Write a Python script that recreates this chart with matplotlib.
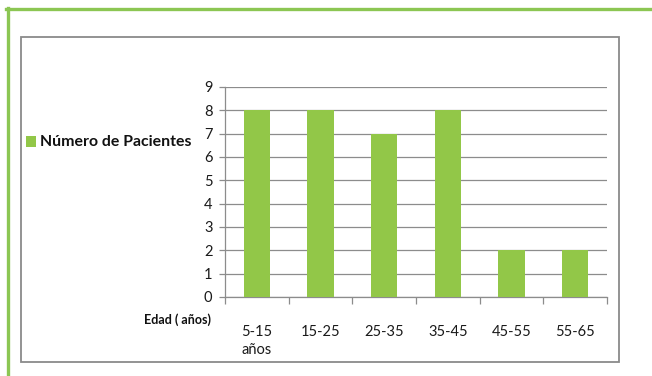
import matplotlib
matplotlib.use("Agg")
import matplotlib.pyplot as plt
from matplotlib.patches import Rectangle
from matplotlib.lines import Line2D
import numpy as np

categories = ["5-15\naños", "15-25", "25-35", "35-45", "45-55", "55-65"]
pacientes = [8, 8, 7, 8, 2, 2]
y_ticks = list(range(0, 10))
series_name = "Número de Pacientes"
x_title = "Edad ( años)"

W, H = 652, 376
DPI = 100
GREEN = "#92c748"
FRAME_GREEN = "#8cc653"

plt.rcParams["font.family"] = ["Lato", "DejaVu Sans"]

fig = plt.figure(figsize=(W / DPI, H / DPI), dpi=DPI)


def fx(px):
    return px / W


def fy(py):
    return 1 - py / H


# outer green frame (top and left edges)
fig.add_artist(Line2D([fx(6), fx(652)], [fy(9), fy(9)], color=FRAME_GREEN, lw=2.4,
                      transform=fig.transFigure))
fig.add_artist(Line2D([fx(8), fx(8)], [fy(8), fy(376)], color=FRAME_GREEN, lw=2.4,
                      transform=fig.transFigure))

# chart area border
fig.add_artist(Rectangle((fx(21), fy(362)), fx(619) - fx(21), fy(37) - fy(362),
                         fill=False, edgecolor="#8a8a8a", lw=1.3,
                         transform=fig.transFigure))

ax = fig.add_axes([fx(225), fy(297), fx(607) - fx(225), fy(87) - fy(297)])

x = np.arange(len(categories))
ax.bar(x, pacientes, width=0.41, color=GREEN, zorder=3)

ax.set_xlim(-0.5, len(categories) - 0.5)
ax.set_ylim(0, 9)
ax.set_yticks(y_ticks)
ax.set_yticklabels([str(v) for v in y_ticks], fontsize=10.5, color="#1a1a1a")
ax.yaxis.grid(True, color="#8c8c8c", lw=0.9, zorder=0)

ax.set_xticks(x)
ax.set_xticklabels(categories, fontsize=10.5, color="#1a1a1a", va="top",
                   linespacing=1.4)
ax.set_xticks(np.arange(-0.5, len(categories)), minor=True)
ax.tick_params(axis="x", which="major", length=0, pad=20)
ax.tick_params(axis="x", which="minor", length=5, color="#8c8c8c", width=0.9)
ax.tick_params(axis="y", length=4, color="#8c8c8c", width=0.9, pad=5)

for side in ["top", "right"]:
    ax.spines[side].set_visible(False)
ax.spines["left"].set_color("#8c8c8c")
ax.spines["bottom"].set_color("#8c8c8c")
ax.spines["left"].set_linewidth(0.9)
ax.spines["bottom"].set_linewidth(0.9)

# legend
fig.add_artist(Rectangle((fx(26), fy(147)), fx(36) - fx(26), fy(136) - fy(147),
                         facecolor=GREEN, edgecolor="none", transform=fig.transFigure))
fig.text(fx(40), fy(142), series_name, fontsize=11.4, fontweight="bold",
         color="#111111", va="center", ha="left")

# axis title
fig.text(fx(211), fy(320), x_title, fontsize=9, fontweight="bold",
         color="#111111", va="center", ha="right")

fig.savefig("out.png", dpi=DPI)
